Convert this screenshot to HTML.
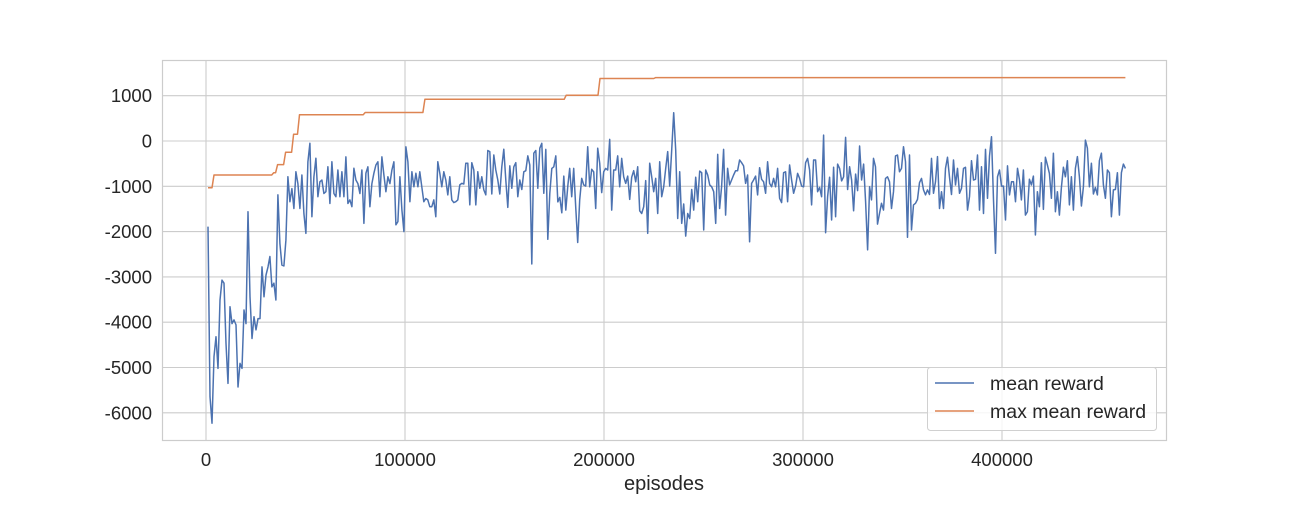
<!DOCTYPE html>
<html><head><meta charset="utf-8"><style>
html,body{margin:0;padding:0;background:#fff;}
svg text{font-family:"Liberation Sans","DejaVu Sans",sans-serif;fill:#262626;}
</style></head><body>
<svg id="chart" width="1296" height="504" viewBox="0 0 1296 504" xmlns="http://www.w3.org/2000/svg">
<g id="grid"></g>
<rect x="162.5" y="60.5" width="1004" height="380" fill="none" stroke="#cccccc" stroke-width="1.2"/>
<g id="series"></g>
<g id="ticks"></g>
<text x="664" y="490" font-size="20" text-anchor="middle">episodes</text>
<g>
<rect x="927.5" y="367.5" width="229" height="63" rx="3" fill="#fff" fill-opacity="0.8" stroke="#d0d0d0"/>
<line x1="935" y1="383" x2="974" y2="383" stroke="#4c72b0" stroke-width="1.6"/>
<text x="990" y="390" font-size="19.5">mean reward</text>
<line x1="935" y1="411" x2="974" y2="411" stroke="#dd8452" stroke-width="1.6"/>
<text x="990" y="418" font-size="19.5">max mean reward</text>
</g>
</svg>
<script>
const epStart = 1000;
const epEnd = 462000;
const meanReward = [
-1890,-5645,-6230,-4760,-4320,-5020,-3510,-3070,-3140,-4470,-5350,-3660,-4030,-3950,-4060,-5430,-4910,-5020,-3730,-4030,-1560,-3440,-4360,-3880,-4170,-3920,-3920,-2780,-3440,-2960,-2780,-2550,-3220,-3140,-3510,-1190,-2260,-2740,-2760,-2190,-790,-1340,-1050,-1490,-680,-940,-1490,-750,-1600,-2040,-460,-50,-1670,-790,-380,-1230,-900,-860,-1160,-1120,-570,-1380,-460,-1160,-1230,-640,-1230,-680,-1230,-350,-1380,-1300,-1450,-600,-860,-940,-1160,-640,-1820,-710,-570,-1450,-940,-710,-530,-460,-1230,-350,-750,-1120,-790,-940,-640,-460,-1850,-1780,-790,-1520,-2000,-130,-460,-1340,-680,-1010,-710,-1010,-680,-1010,-1340,-1270,
-1300,-1450,-1450,-1300,-1670,-460,-710,-1010,-680,-860,-1190,-790,-1300,-1360,-1340,-1300,-970,-935,-950,-490,-490,-1410,-480,-640,-1410,-680,-1045,-790,-1080,-1190,-210,-235,-1170,-310,-640,-860,-1170,-570,-180,-860,-1465,-550,-1045,-570,-480,-1230,-860,-1070,-680,-655,-330,-530,-2715,-270,-210,-1045,-160,-50,-1155,-185,-2170,-1155,-605,-570,-330,-1345,-1245,-1585,-775,-1525,-995,-605,-1230,-605,-1450,-2240,-1300,-825,-970,-995,-125,-1010,-625,-680,-1490,-160,-490,-1140,-680,-605,-640,35,-1525,-640,-640,-330,-1010,-385,-790,-935,-775,-1290,-800,-655,-900,-570,-1540,-1600,-1450,-875,-2040,-490,-790,-1120,-825,-1600,-460,-1230,
-1010,-605,-235,-995,-200,625,-200,-1710,-680,-1820,-1390,-2100,-1600,-1710,-1070,-1525,-800,-1340,-665,-700,-1965,-640,-750,-970,-1010,-1120,-1820,-295,-1490,-1010,-185,-1635,-605,-970,-860,-750,-655,-655,-420,-480,-550,-935,-750,-2225,-935,-860,-775,-1190,-590,-845,-900,-1155,-460,-935,-1010,-825,-1010,-605,-1265,-1360,-700,-680,-1340,-530,-860,-1155,-995,-715,-825,-995,-1010,-480,-385,-640,-1410,-420,-420,-1120,-1025,-1230,130,-2025,-1230,-800,-1745,-580,-1670,-510,-605,-880,-790,80,-1070,-570,-860,-1540,-730,-1095,-110,-860,-510,-1340,-2405,-1010,-1300,-385,-570,-1835,-1600,-1375,-1525,-825,-790,-900,-1490,-1120,-330,
-310,-680,-605,-125,-460,-2125,-310,-1965,-1410,-1375,-1290,-920,-825,-1080,-1190,-1080,-1180,-385,-1155,-900,-345,-1490,-1120,-1490,-605,-360,-800,-1180,-420,-970,-605,-1155,-1045,-605,-580,-1525,-1230,-435,-860,-845,-310,-1525,-570,-1600,-185,-1265,-330,95,-1300,-2480,-790,-640,-995,-995,-1745,-550,-1190,-900,-900,-1340,-605,-860,-1300,-640,-1635,-1560,-845,-970,-775,-2075,-1120,-1450,-480,-1510,-360,-530,-715,-1265,-270,-1560,-1120,-1635,-1025,-580,-790,-435,-1410,-790,-1525,-605,-345,-790,-1435,-1010,20,-160,-1010,-490,-1170,-1025,-1190,-435,-270,-970,-1265,-640,-700,-1670,-1080,-1070,-700,-1635,-700,-510,-605
];
const maxStepEpisodes = [1000, 4000, 34000, 36000, 40000, 44000, 47000, 80000, 110000, 181000, 198000, 226000];
const maxStepLevels = [-1030, -750, -700, -520, -250, 150, 580, 630, 920, 1010, 1380, 1400];
const maxEnd = 462000;
const yTicks = [1000, 0, -1000, -2000, -3000, -4000, -5000, -6000];
const xTicks = [0, 100000, 200000, 300000, 400000];

const NS = 'http://www.w3.org/2000/svg';
const X = v => 206 + (v / 100000) * 199;
const Y = v => 141 - (v / 1000) * 45.3;
function mk(tag, attrs, parent) {
  const e = document.createElementNS(NS, tag);
  for (const k in attrs) e.setAttribute(k, attrs[k]);
  parent.appendChild(e);
  return e;
}
const grid = document.getElementById('grid');
const ticks = document.getElementById('ticks');
const series = document.getElementById('series');
yTicks.forEach(t => {
  const l = mk('line', {x1: 162, x2: 1166, y1: Y(t), y2: Y(t), stroke: '#cccccc', 'stroke-width': 1.1}, grid);
  
  
  const tx = mk('text', {x: 152, y: Y(t) + 6.5, 'font-size': 18.5, 'text-anchor': 'end'}, ticks);
  tx.textContent = String(t);
  
  
});
xTicks.forEach(t => {
  const l = mk('line', {x1: X(t), x2: X(t), y1: 60, y2: 440, stroke: '#cccccc', 'stroke-width': 1.1}, grid);
  
  
  const tx = mk('text', {x: X(t), y: 466, 'font-size': 18.5, 'text-anchor': 'middle'}, ticks);
  tx.textContent = String(t);
  
  
});
const n = meanReward.length;
let d = '';
meanReward.forEach((v, i) => {
  const ep = epStart + (epEnd - epStart) * i / (n - 1);
  d += (i ? 'L' : 'M') + X(ep).toFixed(1) + ',' + Y(v).toFixed(1);
});
const mean = mk('path', {d: d, fill: 'none', stroke: '#4c72b0', 'stroke-width': 1.5, 'stroke-linejoin': 'round'}, series);


let d2 = '';
maxStepEpisodes.forEach((ep, i) => {
  const next = i + 1 < maxStepEpisodes.length ? maxStepEpisodes[i + 1] : maxEnd;
  d2 += (i ? 'L' : 'M') + X(ep).toFixed(1) + ',' + Y(maxStepLevels[i]).toFixed(1);
  d2 += 'L' + X(next - (i + 1 < maxStepEpisodes.length ? 1000 : 0)).toFixed(1) + ',' + Y(maxStepLevels[i]).toFixed(1);
});
const mx = mk('path', {d: d2, fill: 'none', stroke: '#dd8452', 'stroke-width': 1.5, 'stroke-linejoin': 'round'}, series);


</script>
</body></html>
